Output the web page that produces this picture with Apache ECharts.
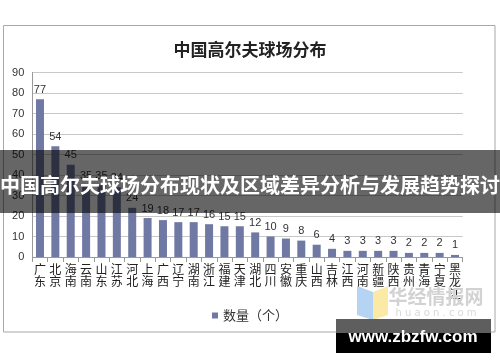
<!DOCTYPE html>
<html><head><meta charset="utf-8">
<script src="https://cdn.jsdelivr.net/npm/echarts@6/dist/echarts.min.js"></script>
<style>html,body{margin:0;padding:0;background:#fff}#c{width:500px;height:362px}</style>
</head><body><div id="c"></div>
<script>
const categories = ['广东','北京','海南','云南','山东','江苏','河北','上海','广西','辽宁','湖南','浙江','福建','天津','湖北','四川','安徽','重庆','山西','吉林','江西','河南','新疆','陕西','贵州','青海','宁夏','黑龙江'];
const counts = [77,54,45,35,35,34,24,19,18,17,17,16,15,15,12,10,9,8,6,4,3,3,3,3,2,2,2,1];
const yTicks = [0,10,20,30,40,50,60,70,80,90];
const titleText = '中国高尔夫球场分布';
const seriesName = '数量（个）';
const bannerText = '中国高尔夫球场分布现状及区域差异分析与发展趋势探讨';

const chart = echarts.init(document.getElementById('c'), null, {renderer:'canvas'});
const cjk = '"Noto Sans CJK SC", "Liberation Sans", sans-serif';
chart.setOption({
  animation: false,
  textStyle: {fontFamily: cjk},
  title: {text: titleText, left: 'center', top: 36, textStyle: {fontSize: 17, fontWeight: 'bold', color: '#222', fontFamily: cjk}},
  grid: {left: 32.3, right: 37.3, top: 72.5, bottom: 105, containLabel: false},
  legend: {data: [seriesName], left: 'center', top: 304, icon: 'rect', itemWidth: 6, itemHeight: 6, itemGap: 4,
    textStyle: {fontSize: 13, color: '#333', fontFamily: cjk}},
  xAxis: {type: 'category', data: categories,
    axisLine: {lineStyle: {color: '#999'}},
    axisTick: {show: true, length: 5, lineStyle: {color: '#999'}},
    axisLabel: {interval: 0, fontSize: 12, lineHeight: 12.5, color: '#222', margin: 6,
      formatter: v => v.split('').join('\n')}},
  yAxis: {type: 'value', min: yTicks[0], max: yTicks[yTicks.length-1], interval: 10,
    axisLine: {show: true, lineStyle: {color: '#999'}},
    axisTick: {show: false},
    axisLabel: {fontSize: 11, color: '#333', margin: 8, fontFamily: '"Liberation Sans", Arial, sans-serif'},
    splitLine: {lineStyle: {color: '#c8c8c8'}}},
  series: [{name: seriesName, type: 'bar', data: counts, barWidth: 8,
    itemStyle: {color: '#7079a3'},
    label: {show: true, position: 'top', distance: 4, fontSize: 11, color: '#333', fontFamily: '"Liberation Sans", Arial, sans-serif'}}],
  graphic: [
    {type: 'rect', shape: {x: 3.5, y: 25.5, width: 491.5, height: 306.5}, style: {fill: 'none', stroke: '#a8a8a8', lineWidth: 1}, z: 1, silent: true},
    {type: 'polygon', shape: {points: [[357,286],[373,292],[373,320],[357,315]]}, style: {fill: '#b5d3f3'}, z: 50},
    {type: 'polygon', shape: {points: [[373,292],[388,286],[388,315],[373,320]]}, style: {fill: '#fbeaa6'}, z: 50},
    {type: 'text', style: {text: '华经情报网', x: 436, y: 297, align: 'center', verticalAlign: 'middle', fill: '#d2d2d2', font: 'bold 19px "Noto Sans CJK SC"'}, z: 50},
    {type: 'text', style: {text: 'h u a o n . c o m', x: 436, y: 313, align: 'center', verticalAlign: 'middle', fill: '#d8d8d8', font: '10px "DejaVu Sans"'}, z: 50},
    {type: 'rect', shape: {x: 0, y: 150, width: 500, height: 63}, style: {fill: 'rgba(0,0,0,0.6)'}, z: 100},
    {type: 'text', style: {text: bannerText, x: 250, y: 185, align: 'center', verticalAlign: 'middle', fill: '#fff', font: 'bold 20px "Noto Sans CJK SC"'}, z: 101},
    {type: 'rect', shape: {x: 336, y: 319, width: 155, height: 14}, style: {fill: '#5e5e5e'}, z: 100},
    {type: 'rect', shape: {x: 336, y: 333, width: 155, height: 20}, style: {fill: '#000'}, z: 100},
    {type: 'text', style: {text: 'www.zbzfw.com', x: 413, y: 337, align: 'center', verticalAlign: 'middle', fill: '#fff', font: 'bold 17px "Liberation Sans", Arial, sans-serif'}, z: 101}
  ]
});
</script></body></html>
